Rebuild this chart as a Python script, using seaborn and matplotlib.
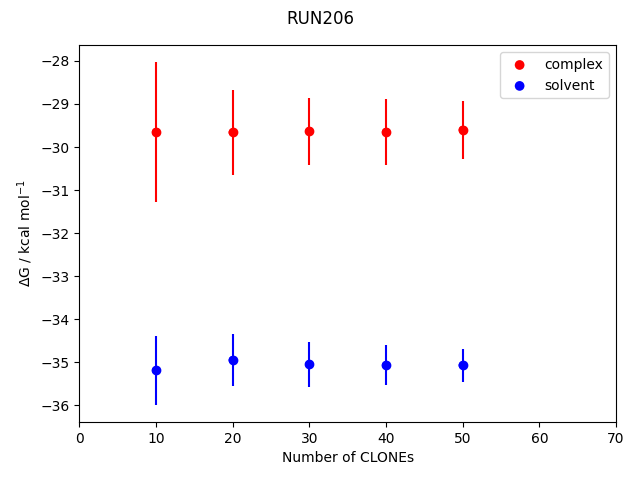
import numpy as np
import pandas as pd
import seaborn as sns
import matplotlib
matplotlib.use("Agg")
import matplotlib.pyplot as plt
from matplotlib.collections import PathCollection

clones = [10, 20, 30, 40, 50]
complex_dg = [-29.65, -29.66, -29.63, -29.65, -29.60]
complex_err = [1.62, 0.98, 0.78, 0.76, 0.68]
solvent_dg = [-35.19, -34.95, -35.05, -35.07, -35.07]
solvent_err = [0.80, 0.61, 0.52, 0.47, 0.38]

df_c = pd.DataFrame({"clones": clones, "dg": complex_dg, "err": complex_err})
df_s = pd.DataFrame({"clones": clones, "dg": solvent_dg, "err": solvent_err})

fig, ax = plt.subplots(figsize=(6.4, 4.8), dpi=100)

ax.errorbar(df_c["clones"], df_c["dg"], yerr=df_c["err"], fmt="o", color="red")
ax.errorbar(df_s["clones"], df_s["dg"], yerr=df_s["err"], fmt="o", color="blue")
sns.scatterplot(data=df_c, x="clones", y="dg", color="red", s=36,
                edgecolor="none", label="complex", ax=ax)
sns.scatterplot(data=df_s, x="clones", y="dg", color="blue", s=36,
                edgecolor="none", label="solvent", ax=ax)

ax.set_xlim(0, 70)
ax.set_xlabel("Number of CLONEs")
ax.set_ylabel(r"$\Delta$G / kcal mol$^{-1}$")
leg = ax.legend(loc="upper right")
for h in leg.legend_handles:
    if isinstance(h, PathCollection):
        h.set_sizes([49])
    else:
        h.set_markersize(7.5)
fig.suptitle("RUN206", y=0.98)

plt.subplots_adjust(left=0.124, right=0.9625, top=0.906, bottom=0.121)
plt.savefig("out.png", dpi=100)
